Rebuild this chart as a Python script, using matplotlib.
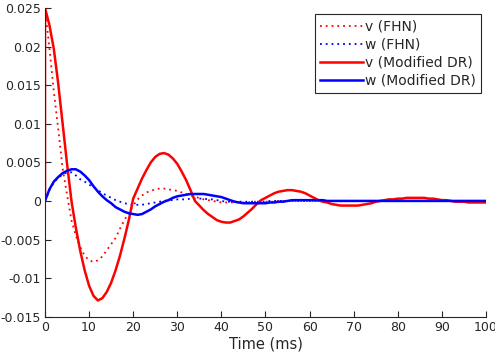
import matplotlib
matplotlib.use("Agg")
import matplotlib.pyplot as plt

# time axis (ms), one sample per ms
time = list(range(0, 101))

# v (FHN) - dotted red
v_fhn = [0.0250, 0.0198, 0.0142, 0.0093, 0.0042, 0.0008, -0.0025, -0.0045, -0.0060, -0.0071,
         -0.0077, -0.0079, -0.0077, -0.0072, -0.0064, -0.0056, -0.0048, -0.0036, -0.0025, -0.0015,
         -0.0006, 0.0002, 0.0007, 0.0011, 0.0013, 0.0015, 0.0016, 0.0016, 0.0015, 0.0014,
         0.0013, 0.0011, 0.0009, 0.0007, 0.0005, 0.0004, 0.0002, 0.0001, 0.0000, -0.0001,
         -0.0002, -0.0002, -0.0002, -0.0002, -0.0002, -0.0002, -0.0002, -0.0001, -0.0001, -0.0001,
         -0.0001, -0.0001, -0.0001, 0.0000, 0.0000, 0.0000, 0.0000, 0.0000, 0.0000, 0.0000,
         0.0000, 0.0000, 0.0000, 0.0000, 0.0000, 0.0000, 0.0000, 0.0000, 0.0000, 0.0000,
         0.0000, 0.0000, 0.0000, 0.0000, 0.0000, 0.0000, 0.0000, 0.0000, 0.0000, 0.0000,
         0.0000, 0.0000, 0.0000, 0.0000, 0.0000, 0.0000, 0.0000, 0.0000, 0.0000, 0.0000,
         0.0000, 0.0000, 0.0000, 0.0000, 0.0000, 0.0000, 0.0000, 0.0000, 0.0000, 0.0000,
         0.0000]

# w (FHN) - dotted blue
w_fhn = [0.0000, 0.0014, 0.0024, 0.0030, 0.0034, 0.0037, 0.0037, 0.0033, 0.0028, 0.0025,
         0.0021, 0.0018, 0.0014, 0.0010, 0.0007, 0.0004, 0.0001, -0.0001, -0.0003, -0.0004,
         -0.0005, -0.0005, -0.0005, -0.0004, -0.0003, -0.0002, -0.0001, 0.0000, 0.0001, 0.0001,
         0.0002, 0.0002, 0.0002, 0.0003, 0.0003, 0.0003, 0.0003, 0.0002, 0.0002, 0.0001,
         0.0000, -0.0001, -0.0001, -0.0001, -0.0001, -0.0001, -0.0001, -0.0001, -0.0001, -0.0001,
         -0.0001, 0.0000, 0.0000, 0.0000, 0.0000, 0.0000, 0.0000, 0.0000, 0.0000, 0.0000,
         0.0000, 0.0000, 0.0000, 0.0000, 0.0000, 0.0000, 0.0000, 0.0000, 0.0000, 0.0000,
         0.0000, 0.0000, 0.0000, 0.0000, 0.0000, 0.0000, 0.0000, 0.0000, 0.0000, 0.0000,
         0.0000, 0.0000, 0.0000, 0.0000, 0.0000, 0.0000, 0.0000, 0.0000, 0.0000, 0.0000,
         0.0000, 0.0000, 0.0000, 0.0000, 0.0000, 0.0000, 0.0000, 0.0000, 0.0000, 0.0000,
         0.0000]

# v (Modified DR) - solid red, starts from 0 at t=0 then jumps to 0.025
t_dr = [0] + time
v_dr = [0.0000,
        0.0250, 0.0228, 0.0197, 0.0152, 0.0100, 0.0048, 0.0000, -0.0035, -0.0065, -0.0090,
        -0.0110, -0.0123, -0.0129, -0.0126, -0.0118, -0.0106, -0.0090, -0.0071, -0.0049, -0.0025,
        0.0003, 0.0016, 0.0029, 0.0040, 0.0050, 0.0057, 0.0061, 0.0062, 0.0060, 0.0055,
        0.0048, 0.0038, 0.0027, 0.0014, 0.0000, -0.0006, -0.0012, -0.0017, -0.0021, -0.0025,
        -0.0027, -0.0028, -0.0028, -0.0026, -0.0024, -0.0020, -0.0015, -0.0010, -0.0004, 0.0001,
        0.0004, 0.0007, 0.0010, 0.0012, 0.0013, 0.0014, 0.0014, 0.0013, 0.0012, 0.0010,
        0.0007, 0.0004, 0.0001, -0.0001, -0.0002, -0.0004, -0.0005, -0.0006, -0.0006, -0.0006,
        -0.0006, -0.0006, -0.0005, -0.0004, -0.0003, -0.0001, 0.0000, 0.0001, 0.0002, 0.0002,
        0.0003, 0.0003, 0.0004, 0.0004, 0.0004, 0.0004, 0.0004, 0.0003, 0.0003, 0.0002,
        0.0001, 0.0001, 0.0000, -0.0001, -0.0001, -0.0001, -0.0002, -0.0002, -0.0002, -0.0002,
        -0.0002]

# w (Modified DR) - solid blue
w_dr = [0.0000, 0.0015, 0.0025, 0.0031, 0.0036, 0.0039, 0.0041, 0.0041, 0.0038, 0.0033,
        0.0027, 0.0019, 0.0012, 0.0006, 0.0001, -0.0003, -0.0008, -0.0011, -0.0014, -0.0016,
        -0.0017, -0.0018, -0.0017, -0.0014, -0.0011, -0.0007, -0.0004, -0.0001, 0.0001, 0.0004,
        0.0006, 0.0007, 0.0008, 0.0009, 0.0009, 0.0009, 0.0009, 0.0008, 0.0007, 0.0006,
        0.0005, 0.0003, 0.0001, -0.0001, -0.0002, -0.0003, -0.0003, -0.0003, -0.0003, -0.0003,
        -0.0003, -0.0002, -0.0002, -0.0001, -0.0001, 0.0000, 0.0001, 0.0001, 0.0001, 0.0001,
        0.0001, 0.0001, 0.0001, 0.0001, 0.0000, 0.0000, 0.0000, 0.0000, 0.0000, 0.0000,
        0.0000, 0.0000, 0.0000, 0.0000, 0.0000, 0.0000, 0.0000, 0.0000, 0.0000, 0.0000,
        0.0000, 0.0000, 0.0000, 0.0000, 0.0000, 0.0000, 0.0000, 0.0000, 0.0000, 0.0000,
        0.0000, 0.0000, 0.0000, 0.0000, 0.0000, 0.0000, 0.0000, 0.0000, 0.0000, 0.0000,
        0.0000]

labels = ["v (FHN)", "w (FHN)", "v (Modified DR)", "w (Modified DR)"]
x_ticks = [0, 10, 20, 30, 40, 50, 60, 70, 80, 90, 100]
y_ticks = [-0.015, -0.01, -0.005, 0, 0.005, 0.01, 0.015, 0.02, 0.025]
y_tick_labels = ["-0.015", "-0.01", "-0.005", "0", "0.005", "0.01", "0.015", "0.02", "0.025"]

plt.rcParams['font.family'] = ['DejaVu Sans']
plt.rcParams['font.size'] = 9

fig = plt.figure(figsize=(4.95, 3.6), dpi=100)
ax = fig.add_axes([0.0909, 0.1203, 0.8909, 0.8575])

dots = (0, (1, 2.2))
ax.plot(time, v_fhn, color='red', linestyle=dots, linewidth=1.3, label=labels[0])
ax.plot(time, w_fhn, color='blue', linestyle=dots, linewidth=1.3, label=labels[1])
ax.plot(t_dr, v_dr, color='red', linewidth=1.8, label=labels[2])
ax.plot(time, w_dr, color='blue', linewidth=1.8, label=labels[3])

ax.set_xlim(0, 100)
ax.set_ylim(-0.015, 0.025)
ax.set_xticks(x_ticks)
ax.set_yticks(y_ticks)
ax.set_yticklabels(y_tick_labels)
ax.set_xlabel("Time (ms)", color='#262626', fontsize=10.5, labelpad=2)

ax.spines['top'].set_visible(False)
ax.spines['right'].set_visible(False)
for s in ['left', 'bottom']:
    ax.spines[s].set_color('#262626')
    ax.spines[s].set_linewidth(0.8)
ax.tick_params(direction='in', length=4, width=0.8, colors='#262626', pad=3, labelsize=9)

leg = ax.legend(loc='upper right', bbox_to_anchor=(0.989, 0.981), borderaxespad=0,
                fancybox=False, framealpha=1, edgecolor='#262626', fontsize=10,
                handlelength=3.1, handletextpad=0.1, labelspacing=0.3,
                borderpad=0.4)
leg.get_frame().set_linewidth(0.8)
for txt in leg.get_texts():
    txt.set_color('#262626')

fig.savefig("out.png", dpi=100)
